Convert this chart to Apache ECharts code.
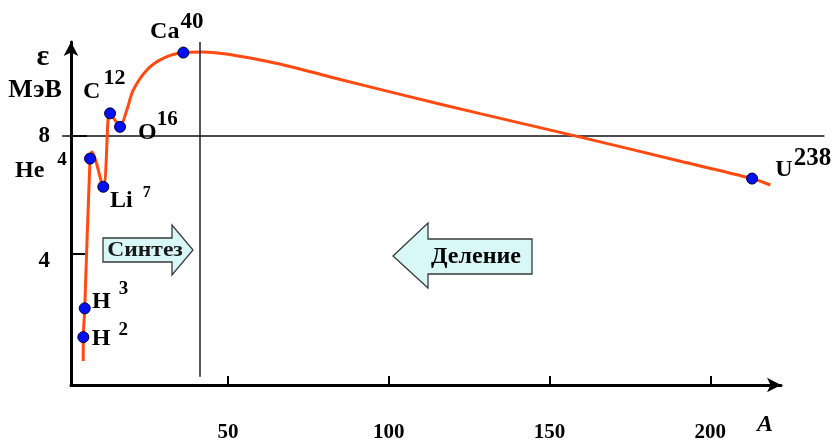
<!DOCTYPE html>
<html>
<head>
<meta charset="utf-8">
<script src="https://cdn.jsdelivr.net/npm/echarts@6/dist/echarts.min.js"></script>
<style>
  html, body { margin: 0; padding: 0; background: #ffffff; }
  #chart { width: 836px; height: 443px; }
</style>
</head>
<body>
<div id="chart"></div>
<script>
// Binding energy per nucleon (MeV) against mass number A
const curveA = [4.95, 4.98, 5.42, 7.07, 7.6, 11.2, 13.0, 13.6, 16.4, 18.5, 20.5, 24.7, 29.8, 36.1, 42.2, 63.1, 81.8, 104.5, 128.4, 159.6, 190.7, 213.0, 218.7];
const curveE = [0.34, 1.15, 2.13, 7.23, 7.45, 6.27, 8.8, 8.75, 8.33, 8.88, 9.56, 10.24, 10.64, 10.84, 10.86, 10.52, 10.01, 9.39, 8.76, 7.96, 7.14, 6.55, 6.33];

// Marked nuclides
const nuclideSymbols = ['H', 'H', 'He', 'Li', 'C', 'O', 'Ca', 'U'];
const nuclideMass = ['2', '3', '4', '7', '12', '16', '40', '238'];
const nuclideA = [4.98, 5.42, 7.07, 11.2, 13.3, 16.4, 36.1, 213.0];
const nuclideE = [1.15, 2.13, 7.23, 6.27, 8.77, 8.31, 10.84, 6.55];

// Axis ticks and reference lines
const xTickValues = [50, 100, 150, 200];
const yTickValues = [4, 8];
const referenceLevel = 8;     // horizontal guide, MeV
const boundaryA = 41.3;       // vertical divider between fusion and fission sides

// Label placement for each nuclide: offset of the symbol's centre line from the point,
// how far the mass number is raised, gap before it, and its font size
const labelLayout = [
  { dx: 8.5,  dy: 2,     raise: 9.5,  gap: 8,   sup: 19 },
  { dx: 7.3,  dy: -6.8,  raise: 12.5, gap: 8,   sup: 19 },
  { dx: -75,  dy: 12.2,  raise: 11,   gap: 13,  sup: 19 },
  { dx: 6.7,  dy: 14.3,  raise: 8.5,  gap: 10,  sup: 16 },
  { dx: -27,  dy: -21.8, raise: 13.5, gap: 3,   sup: 22 },
  { dx: 18,   dy: 5.8,   raise: 13.5, gap: 0,   sup: 21 },
  { dx: -33.3,dy: -20.8, raise: 10,   gap: 1,   sup: 23 },
  { dx: 23.3, dy: -8.3,  raise: 11.5, gap: 1,   sup: 25 }
];

const SERIF = '"Liberation Serif", "Times New Roman", serif';
const MAIN_SIZE = 24;

const curveData = curveA.map((a, i) => [a, curveE[i]]);

const nuclideData = nuclideA.map((a, i) => {
  const l = labelLayout[i];
  const pad = MAIN_SIZE / 2 + l.raise - l.sup / 2;
  return {
    value: [a, nuclideE[i]],
    label: {
      show: true,
      position: 'inside',
      align: 'left',
      verticalAlign: 'bottom',
      offset: [l.dx, l.dy + MAIN_SIZE / 2],
      color: '#000',
      textBorderWidth: 0,
      formatter: '{m|' + nuclideSymbols[i] + '}{s|' + nuclideMass[i] + '}',
      rich: {
        m: { fontFamily: SERIF, fontWeight: 'bold', fontSize: MAIN_SIZE, lineHeight: MAIN_SIZE, color: '#000', textBorderWidth: 0, verticalAlign: 'bottom' },
        s: { fontFamily: SERIF, fontWeight: 'bold', fontSize: l.sup, lineHeight: l.sup, color: '#000', textBorderWidth: 0, verticalAlign: 'bottom', padding: [0, 0, pad, l.gap] }
      }
    }
  };
});

const chart = echarts.init(document.getElementById('chart'), null, { renderer: 'canvas' });

const option = {
  animation: false,
  backgroundColor: '#ffffff',
  grid: { left: 71, right: 55, top: 42, bottom: 58, containLabel: false },
  xAxis: {
    type: 'value',
    min: 1.15,
    max: 222,
    splitLine: { show: false },
    axisLine: {
      show: true,
      onZero: false,
      symbol: ['none', 'arrow'],
      symbolSize: [11, 14],
      symbolOffset: [0, 0],
      lineStyle: { color: '#000', width: 3 }
    },
    axisTick: {
      show: true, inside: true, length: 9,
      customValues: xTickValues,
      lineStyle: { color: '#000', width: 2 }
    },
    axisLabel: {
      show: true, margin: 37,
      customValues: xTickValues,
      fontFamily: SERIF, fontWeight: 'bold', fontSize: 21, color: '#000'
    }
  },
  yAxis: {
    type: 'value',
    min: -0.48,
    max: 11.2,
    splitLine: { show: false },
    axisLine: {
      show: true,
      onZero: false,
      symbol: ['none', 'arrow'],
      symbolSize: [11, 14],
      symbolOffset: [0, 0],
      lineStyle: { color: '#000', width: 3 }
    },
    axisTick: {
      show: true, inside: true, length: 16,
      customValues: yTickValues,
      lineStyle: { color: '#000', width: 2 }
    },
    axisLabel: {
      show: true, margin: 21,
      customValues: yTickValues,
      formatter: (v) => (v === 4 ? '{low|' + v + '}' : '{n|' + v + '}'),
      rich: {
        n: { fontFamily: SERIF, fontWeight: 'bold', fontSize: 23, color: '#000' },
        low: { fontFamily: SERIF, fontWeight: 'bold', fontSize: 23, color: '#000', padding: [16, 0, 0, 0] }
      }
    }
  },
  series: [
    {
      // vertical divider
      type: 'line',
      data: [],
      silent: true,
      markLine: {
        silent: true,
        symbol: ['none', 'none'],
        label: { show: false },
        lineStyle: { color: '#222', width: 1.5, type: 'solid' },
        data: [[{ coord: [boundaryA, -0.2] }, { coord: [boundaryA, 11.2] }]]
      }
    },
    {
      type: 'line',
      data: curveData,
      smooth: 0.3,
      showSymbol: false,
      silent: true,
      z: 3,
      lineStyle: { color: '#ff4a10', width: 3 }
    },
    {
      type: 'scatter',
      data: nuclideData,
      symbol: 'circle',
      symbolSize: 11,
      silent: true,
      z: 4,
      itemStyle: { color: '#0010f0', borderColor: '#000040', borderWidth: 1, opacity: 1 }
    }
  ]
};

chart.setOption(option);

// Horizontal guide at the reference level, running slightly past the plot on both sides
const p0 = chart.convertToPixel({ gridIndex: 0 }, [-1.6, referenceLevel]);
const p1 = chart.convertToPixel({ gridIndex: 0 }, [235.5, referenceLevel]);

const arrowFill = '#d8f7f7';
const arrowStroke = '#3a3a3a';

chart.setOption({
  graphic: [
    {
      type: 'line', silent: true, z: 1,
      shape: { x1: p0[0], y1: p0[1], x2: p1[0], y2: p1[1] },
      style: { stroke: '#111', lineWidth: 1.5 }
    },
    {
      type: 'text', x: 43, y: 57,
      style: { text: 'ε', font: 'bold 30px ' + SERIF, fill: '#000', align: 'center', verticalAlign: 'middle' }
    },
    {
      type: 'text', x: 35, y: 90,
      style: { text: 'МэВ', font: 'bold 26px ' + SERIF, fill: '#000', align: 'center', verticalAlign: 'middle' }
    },
    {
      type: 'text', x: 765, y: 425,
      style: { text: 'A', font: 'italic bold 24px ' + SERIF, fill: '#000', align: 'center', verticalAlign: 'middle' }
    },
    {
      // fusion arrow
      type: 'polygon', z: 5,
      shape: { points: [[103, 238], [172, 238], [172, 225], [193, 250], [172, 275], [172, 262], [103, 262]] },
      style: { fill: arrowFill, stroke: arrowStroke, lineWidth: 1.3 }
    },
    {
      type: 'text', z: 6, x: 145, y: 251, scaleX: 1.12,
      style: { text: 'Синтез', font: 'bold 21px ' + SERIF, fill: '#1a1a1a', align: 'center', verticalAlign: 'middle' }
    },
    {
      // fission arrow
      type: 'polygon', z: 5,
      shape: { points: [[393, 256], [428, 223], [428, 239], [532, 239], [532, 274], [428, 274], [428, 288]] },
      style: { fill: arrowFill, stroke: arrowStroke, lineWidth: 1.3 }
    },
    {
      type: 'text', z: 6, x: 476, y: 257,
      style: { text: 'Деление', font: 'bold 24px ' + SERIF, fill: '#000', align: 'center', verticalAlign: 'middle' }
    }
  ]
});
</script>
</body>
</html>
